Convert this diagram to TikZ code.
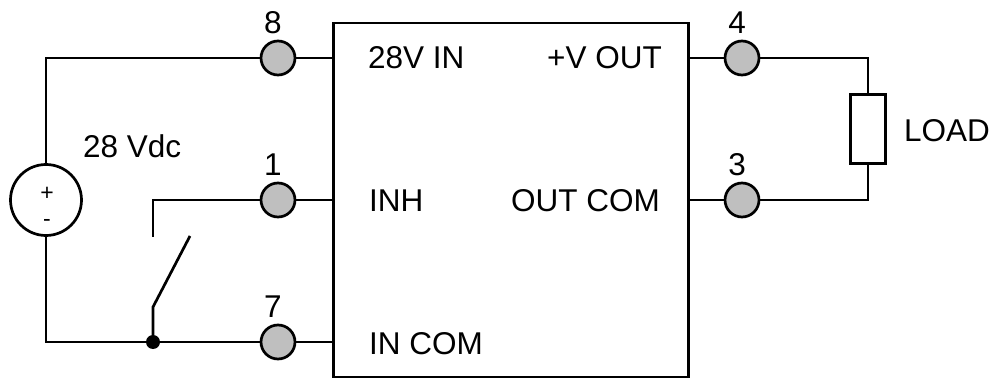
\documentclass[tikz,border=0pt]{standalone}
\usepackage{fontspec}
\setmainfont{Liberation Sans}
\usetikzlibrary{positioning}

\tikzset{
  wire/.style={line width=2.7pt},
  pin/.style={circle, draw, line width=2.7pt, fill=gray!50, minimum size=34pt, inner sep=0pt},
  lbl/.style={inner sep=0pt, font=\fontsize{31.5}{37}\selectfont},
  sign/.style={inner sep=0pt, anchor=base, font=\fontsize{23}{26}\selectfont},
}

\begin{document}
\begin{tikzpicture}[x=1pt,y=-1pt]
\useasboundingbox (0,0) rectangle (995,379);

%draw converter box
\node[draw, line width=2.7pt, minimum width=355.5pt, minimum height=353.75pt, inner sep=0pt] (conv) at (511,200) {};

%draw pins
\node[pin] (p8) at (278,58) {};
\node[pin] (p1) at (278,200) {};
\node[pin] (p7) at (278,342) {};
\node[pin] (p4) at (742,58) {};
\node[pin] (p3) at (742,200) {};

%pin numbers
\foreach \p in {8,1,7,4,3}
\node[lbl, above=6pt of p\p, xshift=-5pt] (n\p) {\p};

%labels inside the box
\node[lbl, anchor=west] (t8) at (368,58) {28V IN};
\node[lbl, anchor=west] (t1) at (369,201) {INH};
\node[lbl, anchor=west] (t7) at (369,344) {IN COM};
\node[lbl, anchor=east] (t4) at (662,58) {+V OUT};
\node[lbl, anchor=east] (t3) at (660,201) {OUT COM};

%supply
\node[circle, draw, line width=2.7pt, minimum size=71pt, inner sep=0pt] (src) at (46,200) {};
\node[sign] (plus) at (47,201) {+};
\node[sign] (minus) at (47,227) {-};
\node[lbl, anchor=west] (vdc) at (83,146) {28 Vdc};

%load
\node[draw, line width=2.7pt, minimum width=34.5pt, minimum height=69.5pt, inner sep=0pt] (load) at (868,129) {};
\node[lbl, anchor=west] (tload) at (904,131) {LOAD};

%switch points
\coordinate (jn) at (153,342);
\coordinate (sw1) at (153,307);
\coordinate (sw2) at (190,236);
\coordinate (sw3) at (153,237);

%draw wires on the input side
\draw[wire] (src.north) |- (p8.west);
\draw[wire] (src.south) |- (p7.west);
\draw[wire] (p8.east) -- (p8.east -| conv.west);
\draw[wire] (p1.east) -- (p1.east -| conv.west);
\draw[wire] (p7.east) -- (p7.east -| conv.west);
\draw[wire] (sw3) |- (p1.west);
\draw[wire] (jn) -- (sw1) -- (sw2);
\fill (jn) circle (7pt);

%draw wires on the output side
\draw[wire] (p4.west) -- (p4.west -| conv.east);
\draw[wire] (p3.west) -- (p3.west -| conv.east);
\draw[wire] (p4.east) -| (load.north);
\draw[wire] (p3.east) -| (load.south);
\end{tikzpicture}
\end{document}
